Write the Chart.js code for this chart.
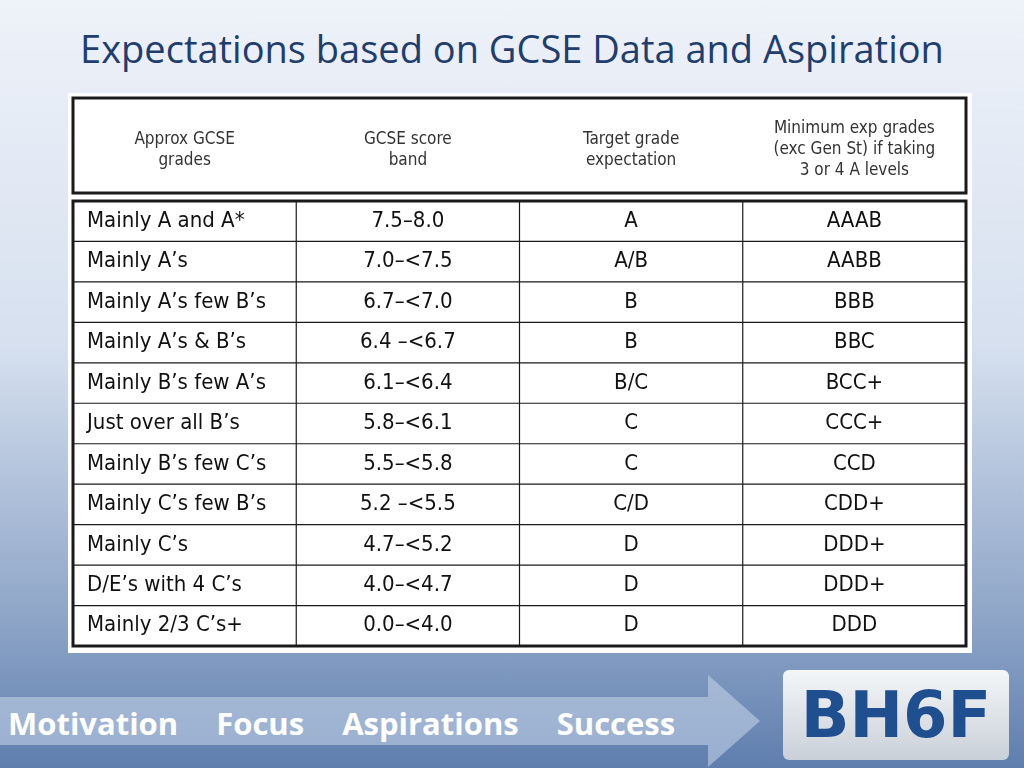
<!DOCTYPE html>
<html>
<head>
<meta charset="utf-8">
<script src="https://cdn.jsdelivr.net/npm/chart.js@4"></script>
<style>
  html, body { margin: 0; padding: 0; }
  body {
    width: 1024px; height: 768px; overflow: hidden; position: relative;
    background: linear-gradient(#eef2f9 0%, #d6e0ef 45%, #8fa6c8 80%, #5f7eae 100%);
    font-family: Lato, sans-serif;
  }
  h1 {
    position: absolute; left: 0; width: 1024px; top: 22px; margin: 0;
    text-align: center; font-weight: normal; font-size: 38px; color: #1f3e6e;
    font-family: "Open Sans", sans-serif;
  }
  #panel { position: absolute; left: 68px; top: 93px; width: 904px; height: 560px; background: #fff; }
  #chartBox { position: absolute; left: 0; top: 0; width: 1024px; height: 768px; }
  #banner {
    position: absolute; left: 0; top: 697px; width: 708px; height: 48px;
    background: rgba(200, 215, 235, 0.55);
  }
  #arrow {
    position: absolute; left: 708px; top: 675px; width: 0; height: 0;
    border-top: 46px solid transparent; border-bottom: 46px solid transparent;
    border-left: 52px solid rgba(200, 215, 235, 0.55);
  }
  #words { position: absolute; top: 702px; left: 8px; color: #fff; font-weight: bold; font-size: 31px; font-family: "Open Sans", sans-serif; }
  #words span { margin-right: 38px; }
  #logo {
    position: absolute; left: 783px; top: 670px; width: 226px; height: 90px;
    background: linear-gradient(#f4f6f8, #c9d0d8); border-radius: 6px;
    font: bold 64px "DejaVu Sans", sans-serif; color: #1f4f8f; text-align: center; line-height: 90px;
  }
</style>
</head>
<body>
<h1>Expectations based on GCSE Data and Aspiration</h1>
<div id="panel"></div>
<div id="banner"></div>
<div id="arrow"></div>
<div id="words"><span>Motivation</span><span>Focus</span><span>Aspirations</span><span>Success</span></div>
<div id="logo">BH6F</div>
<div id="chartBox"><canvas id="tableChart" width="1024" height="768"></canvas></div>
<script>
// Table content
const headers = [
  ['Approx GCSE', 'grades'],
  ['GCSE score', 'band'],
  ['Target grade', 'expectation'],
  ['Minimum exp grades', '(exc Gen St) if taking', '3 or 4 A levels'],
];
const gradeLabels = ['Mainly A and A*', 'Mainly A’s', 'Mainly A’s few B’s', 'Mainly A’s & B’s', 'Mainly B’s few A’s',
  'Just over all B’s', 'Mainly B’s few C’s', 'Mainly C’s few B’s', 'Mainly C’s', 'D/E’s with 4 C’s', 'Mainly 2/3 C’s+'];
const scoreBands = ['7.5–8.0', '7.0–<7.5', '6.7–<7.0', '6.4 –<6.7', '6.1–<6.4', '5.8–<6.1', '5.5–<5.8', '5.2 –<5.5',
  '4.7–<5.2', '4.0–<4.7', '0.0–<4.0'];
const targetGrades = ['A', 'A/B', 'B', 'B', 'B/C', 'C', 'C', 'C/D', 'D', 'D', 'D'];
const minGrades = ['AAAB', 'AABB', 'BBB', 'BBC', 'BCC+', 'CCC+', 'CCD', 'CDD+', 'DDD+', 'DDD+', 'DDD'];

const columns = ['grades', 'band', 'target', 'minimum'];
const columnData = [gradeLabels, scoreBands, targetGrades, minGrades];

const cells = [];
columnData.forEach((col, c) => col.forEach((txt, r) => cells.push({ x: columns[c], y: r, text: txt })));

const tablePlugin = {
  id: 'tablePlugin',
  afterDraw(chart) {
    const ctx = chart.ctx;
    const xs = chart.scales.x, ys = chart.scales.y;
    const a = chart.chartArea;
    const colW = (a.right - a.left) / columns.length;
    const rowH = (a.bottom - a.top) / gradeLabels.length;
    ctx.save();
    ctx.strokeStyle = '#1a1a1a';
    // body grid
    ctx.lineWidth = 3;
    ctx.strokeRect(a.left, a.top, a.right - a.left, a.bottom - a.top);
    ctx.lineWidth = 1.2;
    for (let i = 1; i < gradeLabels.length; i++) {
      const y = ys.getPixelForValue(i) - rowH / 2;
      ctx.beginPath(); ctx.moveTo(a.left, y); ctx.lineTo(a.right, y); ctx.stroke();
    }
    for (let i = 1; i < columns.length; i++) {
      const x = xs.getPixelForValue(i) - colW / 2;
      ctx.beginPath(); ctx.moveTo(x, a.top); ctx.lineTo(x, a.bottom); ctx.stroke();
    }
    // header box
    ctx.lineWidth = 3;
    ctx.strokeRect(a.left, 98, a.right - a.left, 95);
    ctx.fillStyle = '#333';
    ctx.font = '17px "DejaVu Sans Condensed", sans-serif';
    ctx.textAlign = 'center';
    ctx.textBaseline = 'middle';
    headers.forEach((lines, c) => {
      const x = xs.getPixelForValue(c);
      const y0 = 150 - (lines.length - 1) * 10.5;
      lines.forEach((l, k) => ctx.fillText(l, x, y0 + k * 21));
    });
    // cell text
    ctx.fillStyle = '#111';
    ctx.font = '22px "DejaVu Sans Condensed", sans-serif';
    cells.forEach(cell => {
      const ci = columns.indexOf(cell.x);
      const y = ys.getPixelForValue(cell.y);
      if (ci === 0) {
        ctx.textAlign = 'left';
        ctx.fillText(cell.text, a.left + 14, y);
      } else {
        ctx.textAlign = 'center';
        ctx.fillText(cell.text, xs.getPixelForValue(ci), y);
      }
    });
    ctx.restore();
  },
};

new Chart(document.getElementById('tableChart'), {
  type: 'scatter',
  data: {
    datasets: [{ data: cells, pointRadius: 0 }],
  },
  options: {
    responsive: false,
    animation: false,
    layout: { padding: { left: 73, right: 58, top: 201, bottom: 122 } },
    plugins: { legend: { display: false }, tooltip: { enabled: false } },
    scales: {
      x: { type: 'category', labels: columns, offset: true, display: false },
      y: { type: 'linear', min: -0.5, max: gradeLabels.length - 0.5, reverse: true, display: false },
    },
  },
  plugins: [tablePlugin],
});
</script>
</body>
</html>
